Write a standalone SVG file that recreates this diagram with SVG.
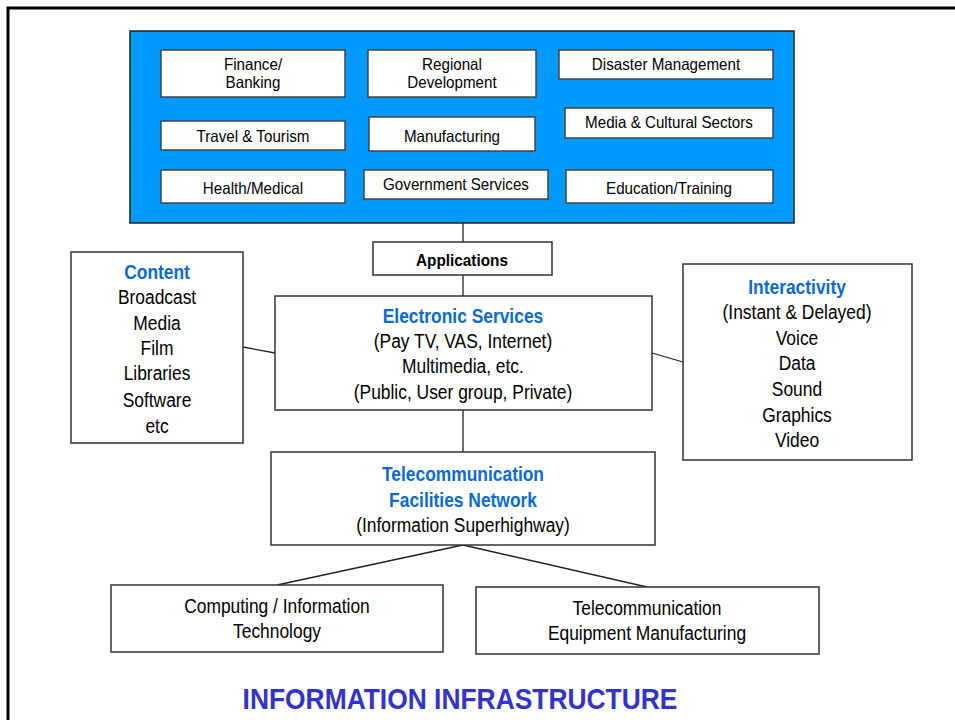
<svg xmlns="http://www.w3.org/2000/svg" width="955" height="720" viewBox="0 0 955 720">
<style>
text{font-family:"Liberation Sans",Arial,sans-serif;text-anchor:middle;fill:#000;transform-box:fill-box;transform-origin:center}
.s{font-size:16.5px;transform:scaleX(0.92)}
.m{font-size:20px;transform:scaleX(0.87)}
.h{font-size:20px;font-weight:bold;fill:#0A6AD2;transform:scaleX(0.87)}
.a{font-size:16.5px;font-weight:bold;transform:scaleX(0.93)}
.t{font-size:29px;font-weight:bold;fill:#3333CC;transform:scaleX(0.91)}
.box{fill:#fff;stroke:#333;stroke-width:1.5}
.ib{fill:#fff;stroke:#444;stroke-width:1.5}
.c{stroke:#222;stroke-width:1.3;fill:none}
</style>
<rect width="955" height="720" fill="#fff"/>
<g id="frame"><path d="M8,720 V8 H955" fill="none" stroke="#000" stroke-width="3"/></g>
<g id="applications-panel">
<rect x="130" y="31" width="664" height="192" fill="#0099FF" stroke="#222" stroke-width="1.5"/>
</g>
<g id="finance"><rect class="ib" x="161" y="50" width="184" height="47"/><text class="s" x="253" y="70">Finance/</text><text class="s" x="253" y="88">Banking</text></g>
<g id="regional"><rect class="ib" x="368" y="50" width="168" height="47"/><text class="s" x="452" y="70">Regional</text><text class="s" x="452" y="88">Development</text></g>
<g id="disaster"><rect class="ib" x="559" y="50" width="214" height="29"/><text class="s" x="666" y="70">Disaster Management</text></g>
<g id="travel"><rect class="ib" x="161" y="121" width="184" height="29"/><text class="s" x="253" y="142">Travel &amp; Tourism</text></g>
<g id="manufacturing"><rect class="ib" x="369" y="117" width="166" height="34"/><text class="s" x="452" y="142">Manufacturing</text></g>
<g id="media"><rect class="ib" x="565" y="108" width="208" height="30"/><text class="s" x="669" y="128">Media &amp; Cultural Sectors</text></g>
<g id="health"><rect class="ib" x="161" y="170" width="184" height="33"/><text class="s" x="253" y="194">Health/Medical</text></g>
<g id="government"><rect class="ib" x="364" y="170" width="184" height="29"/><text class="s" x="456" y="190">Government Services</text></g>
<g id="education"><rect class="ib" x="566" y="170" width="207" height="33"/><text class="s" x="669" y="194">Education/Training</text></g>
<g id="connectors">
<line class="c" x1="463" y1="223" x2="463" y2="242"/>
<line class="c" x1="463" y1="275" x2="463" y2="296"/>
<line class="c" x1="243" y1="347" x2="275" y2="353"/>
<line class="c" x1="652" y1="353" x2="683" y2="362"/>
<line class="c" x1="463" y1="410" x2="463" y2="452"/>
<line class="c" x1="463" y1="545" x2="277" y2="585"/>
<line class="c" x1="463" y1="545" x2="647" y2="587"/>
</g>
<g id="apps"><rect class="box" x="373" y="242" width="179" height="33"/><text class="a" x="462" y="266">Applications</text></g>
<g id="electronic"><rect class="box" x="275" y="296" width="377" height="114"/>
<text class="h" x="463" y="323">Electronic Services</text>
<text class="m" x="463" y="348">(Pay TV, VAS, Internet)</text>
<text class="m" x="463" y="373">Multimedia, etc.</text>
<text class="m" x="463" y="399">(Public, User group, Private)</text></g>
<g id="content"><rect class="box" x="71" y="252" width="172" height="191"/>
<text class="h" x="157" y="279">Content</text>
<text class="m" x="157" y="304">Broadcast</text>
<text class="m" x="157" y="330">Media</text>
<text class="m" x="157" y="355">Film</text>
<text class="m" x="157" y="380">Libraries</text>
<text class="m" x="157" y="407">Software</text>
<text class="m" x="157" y="433">etc</text></g>
<g id="interactivity"><rect class="box" x="683" y="264" width="229" height="196"/>
<text class="h" x="797" y="294">Interactivity</text>
<text class="m" x="797" y="319">(Instant &amp; Delayed)</text>
<text class="m" x="797" y="345">Voice</text>
<text class="m" x="797" y="370">Data</text>
<text class="m" x="797" y="396">Sound</text>
<text class="m" x="797" y="422">Graphics</text>
<text class="m" x="797" y="447">Video</text></g>
<g id="telecom"><rect class="box" x="271" y="452" width="384" height="93"/>
<text class="h" x="463" y="481">Telecommunication</text>
<text class="h" x="463" y="507">Facilities Network</text>
<text class="m" x="463" y="532">(Information Superhighway)</text></g>
<g id="computing"><rect class="box" x="111" y="585" width="332" height="67"/>
<text class="m" x="277" y="613">Computing / Information</text>
<text class="m" x="277" y="638">Technology</text></g>
<g id="equipment"><rect class="box" x="476" y="587" width="343" height="67"/>
<text class="m" x="647" y="615">Telecommunication</text>
<text class="m" x="647" y="640">Equipment Manufacturing</text></g>
<g id="title"><text class="t" x="460" y="709">INFORMATION INFRASTRUCTURE</text></g>
</svg>
